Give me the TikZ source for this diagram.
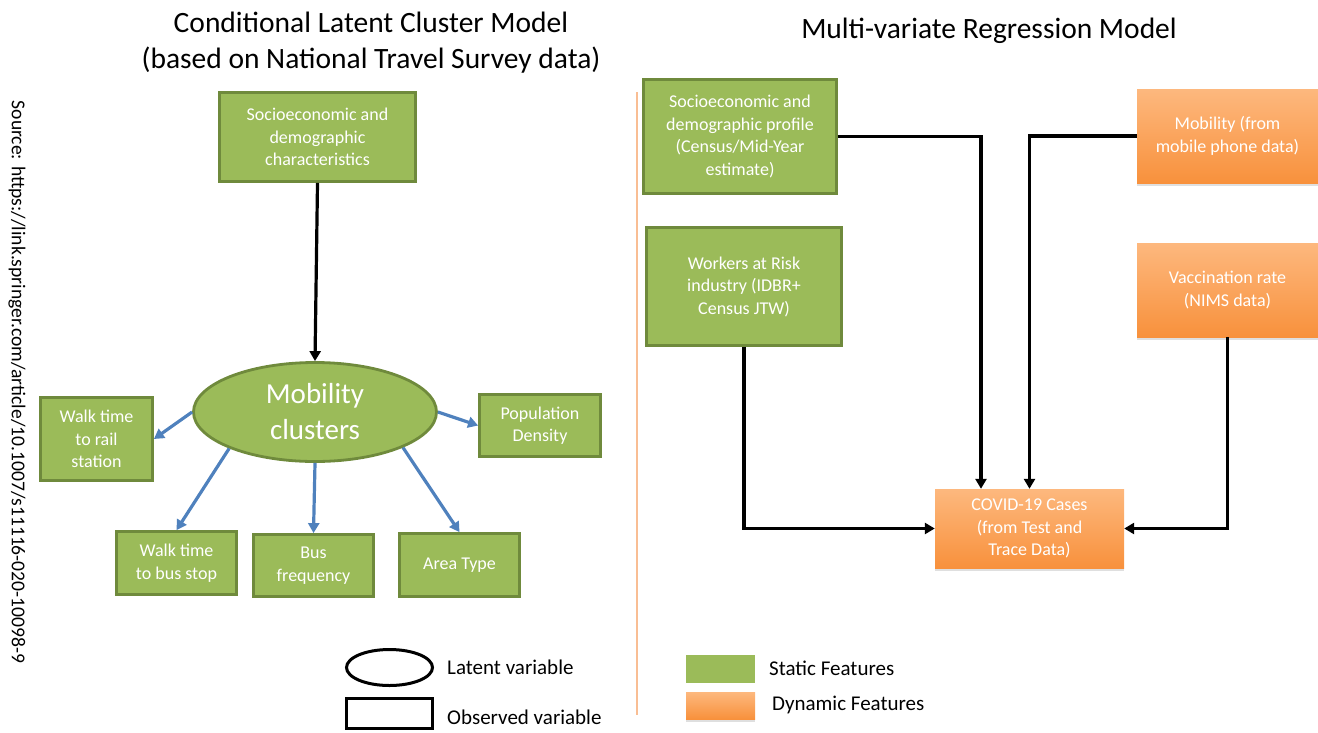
\documentclass[tikz,border=0pt]{standalone}
\usepackage{fontspec}
\setmainfont{Carlito}
\usetikzlibrary{arrows.meta,shadows,shapes.geometric}

\definecolor{olivefill}{HTML}{9BBB59}
\definecolor{oliveedge}{HTML}{6F8A3C}
\definecolor{orangetop}{HTML}{FDB87E}
\definecolor{orangebot}{HTML}{F8913C}
\definecolor{linkblue}{HTML}{4F81BD}
\definecolor{divider}{HTML}{F9BE94}

\begin{document}
\begin{tikzpicture}[x=1pt,y=-1pt,
  boxtext/.style={text=white, align=center, font=\fontsize{18}{22.5}\selectfont, inner sep=0pt},
  staticbox/.style={boxtext, draw=oliveedge, line width=2.8pt, fill=olivefill},
  dynamicbox/.style={boxtext, top color=orangetop, bottom color=orangebot, draw=none,
    drop shadow={shadow xshift=0pt, shadow yshift=-3pt, opacity=0.25}},
  latent/.style={ellipse, draw=oliveedge, line width=2.8pt, fill=olivefill, text=white,
    align=center, font=\fontsize{29}{36}\selectfont, inner sep=0pt},
  flow/.style={line width=3.2pt, black, -{Triangle[length=10pt,width=11pt]}},
  reach/.style={line width=3.2pt, linkblue, -{Triangle[length=10pt,width=11pt]}},
  heading/.style={align=center, font=\fontsize{29.5}{36}\selectfont, inner sep=0pt},
  legendtext/.style={anchor=west, font=\fontsize{21}{24}\selectfont, inner sep=0pt},
]
\useasboundingbox (0,0) rectangle (1318,732);

% headings and source note
\node[heading] (lefttitle) at (371,43) {Conditional Latent Cluster Model\\(based on National Travel Survey data)};
\node[heading] (righttitle) at (989,31) {Multi-variate Regression Model};
\node[rotate=-90, font=\fontsize{19.6}{22}\selectfont, inner sep=0pt] (source) at (17,382)
  {Source: https://link.springer.com/article/10.1007/s11116-020-10098-9};

% divider between the two models
\draw[divider, line width=1.5pt] (637,92) -- (637,715);

% ---- latent cluster model ----
\node[staticbox, minimum width=196pt, minimum height=89pt] (soc) at (317.5,137)
  {Socioeconomic and\\demographic\\characteristics};
\node[latent, minimum width=243pt, minimum height=99pt] (mob) at (315,412)
  {Mobility\\clusters};
\node[staticbox, minimum width=112pt, minimum height=83pt] (rail) at (96.5,439)
  {Walk time\\to rail\\station};
\node[staticbox, minimum width=121pt, minimum height=62pt] (pop) at (540,425.5)
  {Population\\Density};
\node[staticbox, minimum width=120pt, minimum height=63pt] (walkbus) at (176.5,563)
  {Walk time\\to bus stop};
\node[staticbox, minimum width=120pt, minimum height=62pt] (busf) at (313.5,565.5)
  {Bus\\frequency};
\node[staticbox, minimum width=120pt, minimum height=63pt] (area) at (459.5,565)
  {Area Type};

\draw[flow] (soc.south) -- (mob.north);
\draw[reach] (mob.west) -- (rail.east);
\draw[reach] (mob.east) -- (pop.west);
\draw[reach] (mob.203) -- (walkbus.north);
\draw[reach] (mob.south) -- (busf.north);
\draw[reach] (mob.-22) -- (area.north);

% ---- regression model ----
\node[staticbox, minimum width=193pt, minimum height=114pt] (profile) at (740,136.5)
  {Socioeconomic and\\demographic profile\\(Census/Mid-Year\\estimate)};
\node[staticbox, minimum width=195pt, minimum height=118pt] (workers) at (744,286.5)
  {Workers at Risk\\industry (IDBR+\\Census JTW)};
\node[dynamicbox, minimum width=181pt, minimum height=94pt] (phone) at (1227.5,136)
  {Mobility (from\\mobile phone data)};
\node[dynamicbox, minimum width=181pt, minimum height=94pt] (vacc) at (1227.5,290)
  {Vaccination rate\\(NIMS data)};
\node[dynamicbox, minimum width=189pt, minimum height=79pt] (covid) at (1029.5,528.5)
  {COVID-19 Cases\\(from Test and\\Trace Data)};

\draw[flow] (profile.east) -| ([xshift=-48.5pt]covid.north);
\draw[flow] (phone.west) -| (covid.north);
\draw[flow] (workers.south) |- (covid.west);
\draw[flow] (vacc.south) |- (covid.east);

% ---- legends ----
\node[ellipse, draw=black, line width=3pt, minimum width=86pt, minimum height=36pt, inner sep=0pt] (keylatent) at (389.5,667.5) {};
\node[legendtext] (keylatenttext) at (447,667) {Latent variable};
\node[draw=black, line width=3pt, minimum width=86pt, minimum height=30pt, inner sep=0pt] (keyobserved) at (389.5,713.5) {};
\node[legendtext] (keyobservedtext) at (447,717) {Observed variable};

\node[fill=olivefill, minimum width=69pt, minimum height=28pt, inner sep=0pt] (keystatic) at (720.5,669) {};
\node[legendtext] (keystatictext) at (769,668) {Static Features};
\node[top color=orangetop, bottom color=orangebot, minimum width=69pt, minimum height=27pt, inner sep=0pt,
  drop shadow={shadow xshift=0pt, shadow yshift=-3pt, opacity=0.25}] (keydynamic) at (720.5,705.5) {};
\node[legendtext] (keydynamictext) at (772,705) {Dynamic Features};
\end{tikzpicture}
\end{document}
